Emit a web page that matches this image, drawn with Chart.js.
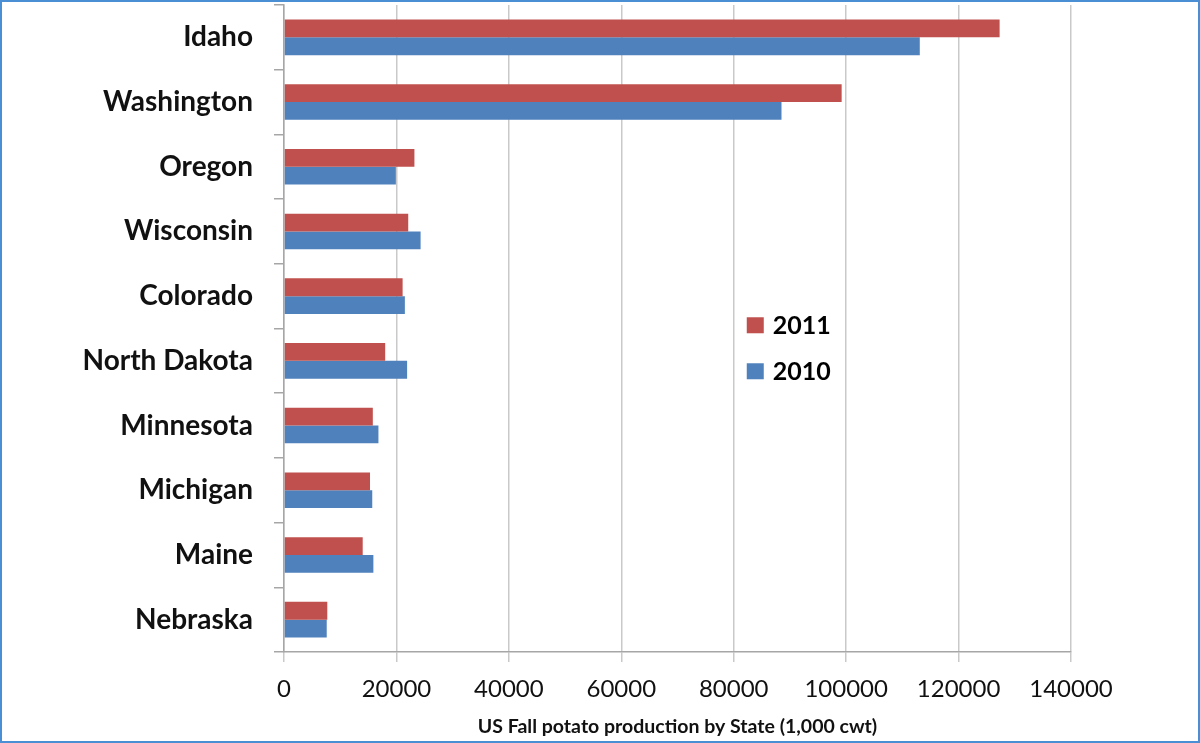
<!DOCTYPE html>
<html>
<head>
<meta charset="utf-8">
<script src="https://cdn.jsdelivr.net/npm/chart.js@4.4.1/dist/chart.umd.min.js"></script>
<style>
  html, body { margin: 0; padding: 0; background: #fff; }
  #wrap { width: 1200px; height: 743px; position: relative; }
</style>
</head>
<body>
<div id="wrap"><canvas id="chart-canvas" width="1200" height="743"></canvas></div>
<script>
//------------------------ DATA ----------------------------

const states = ["Idaho", "Washington", "Oregon", "Wisconsin", "Colorado", "North Dakota", "Minnesota", "Michigan", "Maine", "Nebraska"];
const values2011 = [127300, 99200, 23200, 22100, 21100, 18000, 15800, 15300, 14000, 7700];
const values2010 = [113100, 88500, 19900, 24300, 21500, 21900, 16800, 15700, 15900, 7600];
const xTicks = [0, 20000, 40000, 60000, 80000, 100000, 120000, 140000];

//------------------------ PLUGINS ----------------------------

// Blue frame round the picture
const framePlugin = {
  id: "frame",
  beforeDraw(chart) {
    const ctx = chart.ctx;
    ctx.save();
    ctx.fillStyle = "#ffffff";
    ctx.fillRect(0, 0, chart.width, chart.height);
    ctx.strokeStyle = "#4a8fd4";
    ctx.lineWidth = 2;
    ctx.strokeRect(1, 1, chart.width - 2, chart.height - 2);
    ctx.restore();
  },
};

// Legend floating inside the plot area
const floatLegend = {
  id: "floatLegend",
  afterDraw(chart) {
    const ctx = chart.ctx;
    const area = chart.chartArea;
    const x = area.left + (area.right - area.left) * 0.588;
    let y = area.top + (area.bottom - area.top) * 0.495;
    ctx.save();
    ctx.font = "bold 25px Lato";
    ctx.textBaseline = "middle";
    chart.data.datasets.forEach((ds) => {
      ctx.fillStyle = ds.backgroundColor;
      ctx.fillRect(x, y - 8, 17, 16);
      ctx.fillStyle = "#000";
      ctx.fillText(ds.label, x + 26, y + 1);
      y += 46;
    });
    ctx.restore();
  },
};

//------------------------ CHART ----------------------------

const ctx = document.getElementById("chart-canvas").getContext("2d");
const myChart = new Chart(ctx, {
  type: "bar",
  data: {
    labels: states,
    datasets: [
      {
        label: "2011",
        data: values2011,
        backgroundColor: "#c0504d",
      },
      {
        label: "2010",
        data: values2010,
        backgroundColor: "#4f81bd",
      },
    ],
  },
  options: {
    indexAxis: "y",
    responsive: false,
    animation: false,
    layout: {
      padding: { left: 0, right: 129, top: 5, bottom: 0 },
    },
    datasets: {
      bar: {
        categoryPercentage: 0.55,
        barPercentage: 1.0,
      },
    },
    plugins: {
      legend: { display: false },
      tooltip: { enabled: false },
    },
    scales: {
      x: {
        min: 0,
        max: 140000,
        afterBuildTicks(scale) {
          scale.ticks = xTicks.map((v) => ({ value: v }));
        },
        afterFit(scale) {
          scale.height = 91;
        },
        grid: {
          color: "#c9c9c9",
          lineWidth: 1.5,
          tickLength: 10,
        },
        border: { color: "#a6a6a6", width: 1.5 },
        ticks: {
          color: "#111",
          font: { family: "Lato", size: 24 },
          padding: 13,
          maxRotation: 0,
          autoSkip: false,
          callback: (v) => String(v),
        },
        title: {
          display: true,
          text: "US Fall potato production by State (1,000 cwt)",
          color: "#111",
          font: { family: "Lato", size: 19.5, weight: "bold" },
          padding: { top: 0, bottom: 5 },
        },
      },
      y: {
        afterFit(scale) {
          scale.width = 284;
          // labels sit inside their bands, so no extra room is needed above/below
          scale.paddingTop = 0;
          scale.paddingBottom = 0;
        },
        grid: {
          offset: true,
          drawOnChartArea: false,
          color: "#a6a6a6",
          lineWidth: 1.5,
          tickLength: 10,
        },
        border: { color: "#a6a6a6", width: 1.5 },
        ticks: {
          color: "#111",
          font: { family: "Lato", size: 28, weight: "bold" },
          padding: 21,
          autoSkip: false,
        },
      },
    },
  },
  plugins: [framePlugin, floatLegend],
});
</script>
</body>
</html>
